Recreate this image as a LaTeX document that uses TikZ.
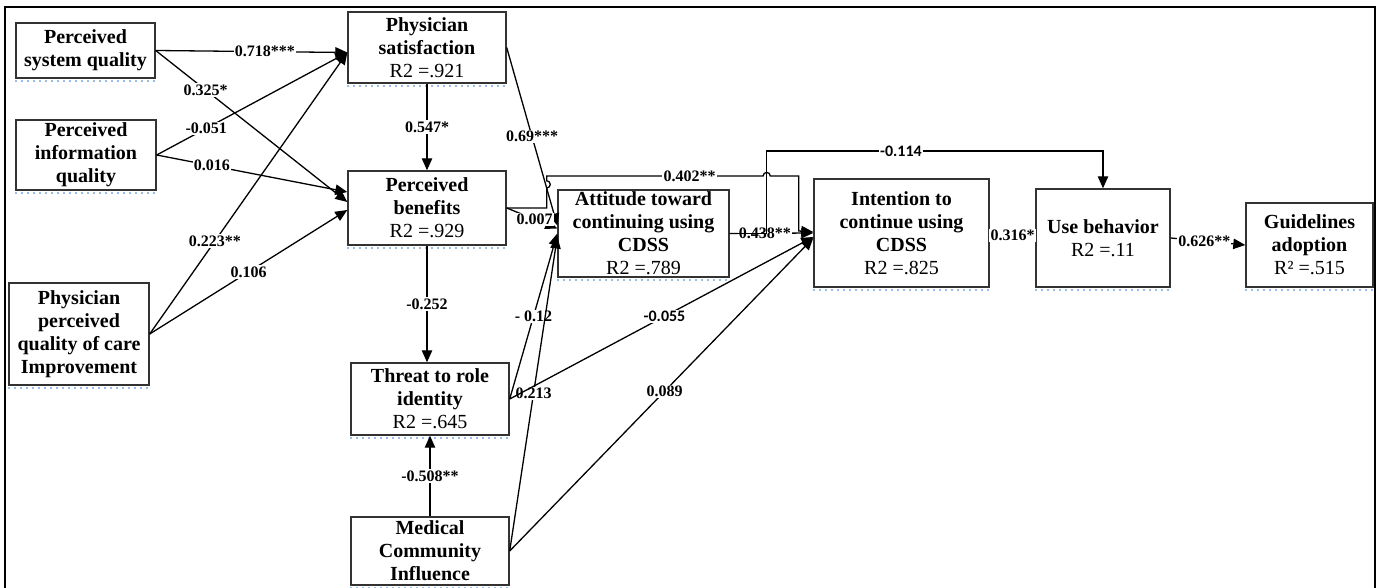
\documentclass[tikz,border=0pt]{standalone}
\usepackage{fontspec}
\setmainfont{Liberation Serif}
\newfontfamily\calibrisans{Carlito}
\usetikzlibrary{arrows.meta,calc}
\definecolor{squigblue}{RGB}{150,190,230}

\begin{document}
\begin{tikzpicture}[x=0.5pt,y=-0.5pt,
  box/.style={draw=black!80, line width=0.7pt, fill=white, align=center, inner sep=0pt,
    font=\fontsize{10}{11.5}\selectfont\bfseries},
  edge/.style={line width=0.65pt, -{Triangle[length=6pt,width=5.2pt]}},
  lbl/.style={fill=white, inner sep=0.6pt, font=\fontsize{8}{9}\selectfont\bfseries},
  slbl/.style={fill=white, inner sep=0.6pt, font=\fontsize{8}{9}\selectfont\bfseries\calibrisans},
  squig/.style={draw=squigblue, dotted, line width=1pt},
]
\useasboundingbox (0,0) rectangle (1378,588);
% outer frame (open at the bottom edge of the page)
\draw[line width=1.3pt] (5,7) rectangle (1375,620);

% constructs
\node[box, minimum width=69.5pt, minimum height=27.5pt] (psq) at (85.5,50.5) {Perceived\\system quality};
\node[box, minimum width=70pt, minimum height=35pt] (piq) at (86,155) {Perceived\\information\\quality};
\node[box, minimum width=70pt, minimum height=51pt] (ppq) at (79,334) {Physician\\perceived\\quality of care\\Improvement};
\node[box, minimum width=79pt, minimum height=35.5pt] (ps) at (427,47.5) {Physician\\satisfaction\\{\mdseries R2 =.921}};
\node[box, minimum width=79pt, minimum height=37pt] (pb) at (427,208) {Perceived\\benefits\\{\mdseries R2 =.929}};
\node[box, minimum width=79pt, minimum height=36pt] (tri) at (430,399) {Threat to role\\identity\\{\mdseries R2 =.645}};
\node[box, minimum width=79pt, minimum height=34pt] (mci) at (430,551) {Medical\\Community\\Influence};
\node[box, minimum width=85.5pt, minimum height=43.5pt] (att) at (643.5,233.5) {Attitude toward\\continuing using\\CDSS\\{\mdseries R2 =.789}};
\node[box, minimum width=87.5pt, minimum height=54pt] (int) at (901.5,233) {Intention to\\continue using\\CDSS\\{\mdseries R2 =.825}};
\node[box, minimum width=67pt, minimum height=49pt] (ub) at (1103,238) {Use behavior\\{\mdseries R2 =.11}};
\node[box, minimum width=63.5pt, minimum height=42pt] (ga) at (1309.5,245) {Guidelines\\adoption\\{\mdseries R² =.515}};

\foreach \n in {psq,piq,ppq,ps,pb,tri,mci,att,int,ub,ga}
  \draw[squig] ([yshift=-1.3pt]\n.south west) -- ([yshift=-1.3pt]\n.south east);

% paths into satisfaction and benefits
\draw[edge] (psq.east) -- ($(ps.west)+(0,5)$) node[lbl,pos=0.57]{0.718***};
\draw[edge] (psq.east) -- ($(pb.west)+(0,-6)$) node[lbl,pos=0.26]{0.325*};
\draw[edge] (piq.east) -- ($(ps.west)+(0,5)$) node[lbl,pos=0.26]{-0.051};
\draw[edge] (piq.east) -- ($(pb.west)+(0,-16)$) node[lbl,pos=0.29]{0.016};
\draw[edge] (ppq.east) -- ($(ps.west)+(0,5)$) node[lbl,pos=0.33]{0.223**};
\draw[edge] (ppq.east) -- ($(pb.west)+(0,2)$) node[lbl,pos=0.5]{0.106};
\draw[edge] (ps.south) -- (pb.north) node[lbl,midway]{0.547*};
\draw[edge] (pb.south) -- (pb.south |- tri.north) node[lbl,midway]{-0.252};
\draw[edge] (mci.north) -- (tri.south) node[lbl,midway]{-0.508**};

% paths into attitude
\draw[edge] (ps.east) -- ($(att.west)+(0,-8)$) node[lbl,pos=0.5]{0.69***};
\draw[edge] (pb.east) -- ($(att.west)+(0,-5)$) node[lbl,pos=0.55]{0.007};
\draw[edge] (tri.east) -- (att.west) node[lbl,pos=0.5]{- 0.12};
\draw[edge] (mci.east) -- ($(att.west)+(0,3)$) node[lbl,pos=0.5]{0.213};

% paths into intention
\draw[edge] (tri.east) -- ($(int.west)+(0,4)$) node[slbl,pos=0.51]{-0.055};
\draw[edge] (mci.east) -- ($(int.west)+(0,5)$) node[lbl,pos=0.51]{0.089};
\draw[edge] (att.east) -- (int.west) node[lbl,pos=0.42]{0.438**};
\draw[edge] (pb.east) -- ++(40,0) -- ++(0,-20)
  arc[start angle=-90,end angle=90,radius=1.8pt] -- ++(0,-4.8)
  -- ++(216.4,0) node[lbl,pos=0.66]{0.402**}
  arc[start angle=180,end angle=0,radius=1.8pt] -- ++(28.4,0)
  -- ++(0,55) -- ($(int.west)+(0,-1)$);

% paths into use behavior and adoption
\draw[edge] (att.east) -- ++(36.5,0) -- ++(0,-82.5) -| (ub.north) node[slbl,pos=0.2]{-0.114};
\draw[edge] (int.east) -- (ub.west) node[lbl,pos=0.5]{0.316*};
\draw[edge] (ub.east) -- (ga.west) node[lbl,pos=0.45]{0.626**};
\end{tikzpicture}
\end{document}
